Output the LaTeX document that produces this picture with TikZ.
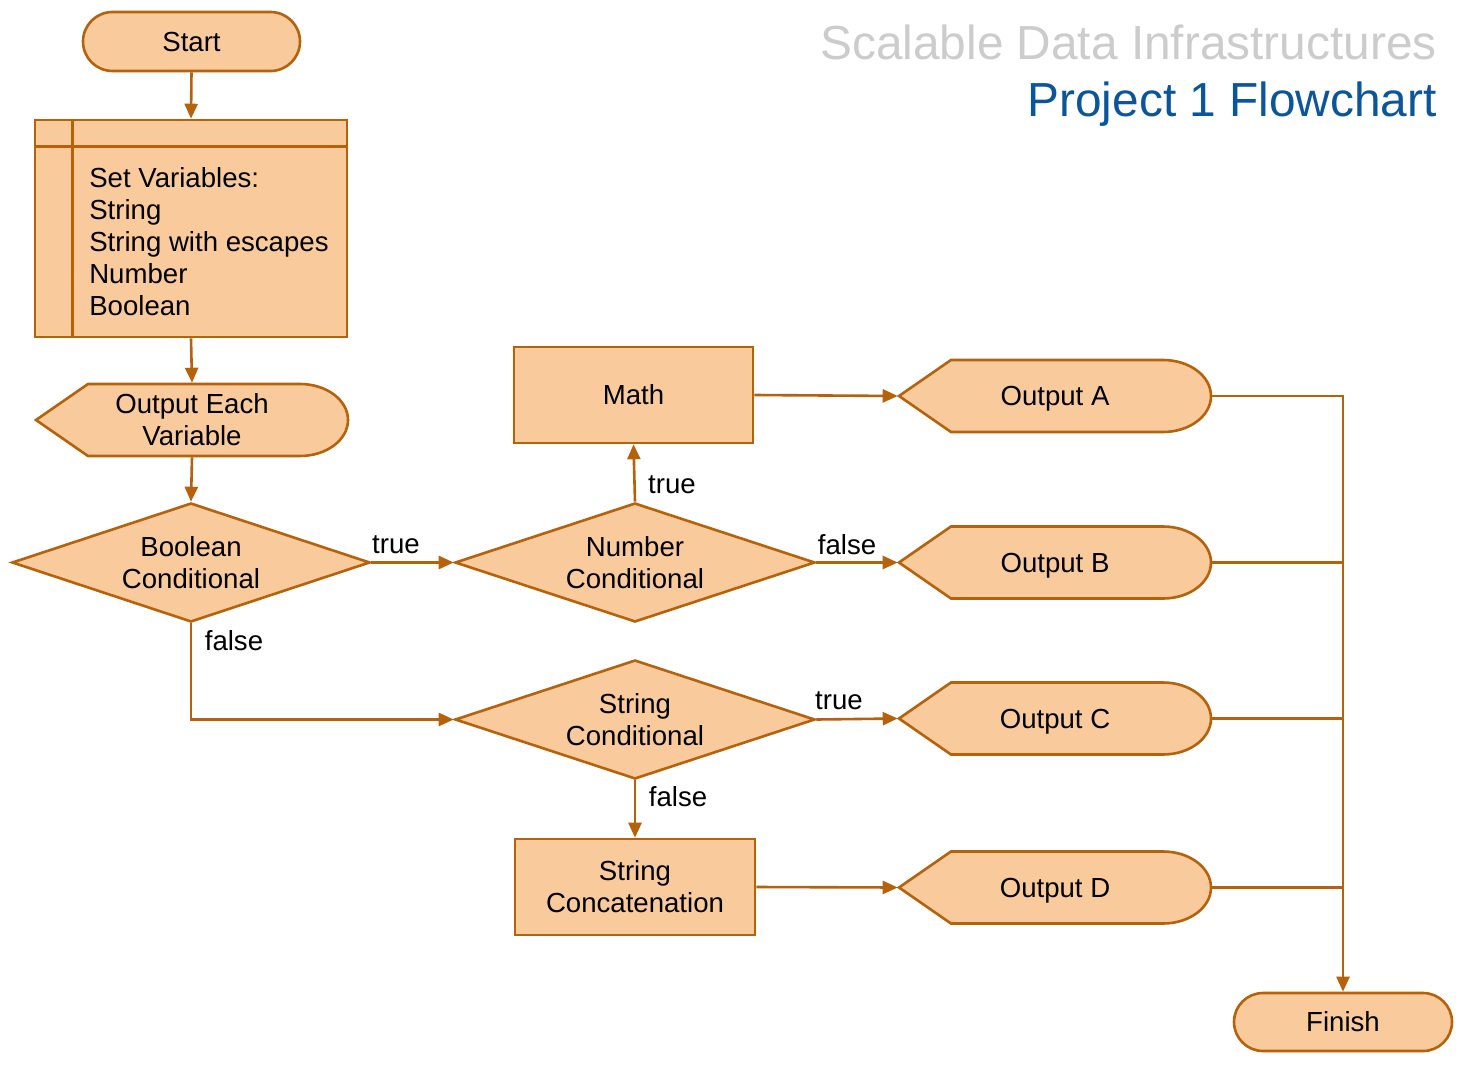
\documentclass[tikz,border=0pt]{standalone}
\usepackage{fontspec}
\setmainfont{Liberation Sans}
\usetikzlibrary{shapes.geometric,shapes.misc,arrows.meta}
\definecolor{fillc}{HTML}{F9CB9C}
\definecolor{linec}{HTML}{B5620B}
\definecolor{titlegray}{HTML}{CCCCCC}
\definecolor{titleblue}{HTML}{0B559B}
\newcommand\dispshape[3]{%
  \draw[draw=linec,fill=fillc] (#1,#3) -- (#1+52,#3-36) -- (#2-48,#3-36)
    .. controls (#2-21.5,#3-36) and (#2,#3-19.9) .. (#2,#3)
    .. controls (#2,#3+19.9) and (#2-21.5,#3+36) .. (#2-48,#3+36)
    -- (#1+52,#3+36) -- cycle;}
\begin{document}
\begin{tikzpicture}[x=0.5pt,y=-0.5pt,line width=1.3pt,
  font=\fontsize{13.8}{16}\selectfont,
  term/.style={rounded rectangle,draw=linec,fill=fillc,minimum width=108.5pt,minimum height=29.5pt,inner sep=0},
  proc/.style={rectangle,draw=linec,fill=fillc,inner sep=0,align=center},
  dec/.style={diamond,draw=linec,fill=fillc,aspect=3,minimum width=179pt,minimum height=59.5pt,inner sep=0,align=center},
  disp/.style={rectangle,inner sep=0,minimum width=156pt,minimum height=36pt,align=center},
  outtxt/.style={disp,text depth=0pt},
  lbl/.style={inner sep=0},
  conn/.style={draw=linec,-{Triangle[length=7.5pt,width=6.5pt]}},
  plainconn/.style={draw=linec},
  ttl/.style={inner sep=0,anchor=base east,font=\fontsize{23.9}{28}\selectfont}]
\useasboundingbox[fill=white] (0,0) rectangle (1466,1070);
% titles
\node[ttl,text=titlegray] (t1) at (1438,60) {Scalable Data Infrastructures};
\node[ttl,text=titleblue] (t2) at (1438,117) {Project 1 Flowchart};
% display shapes
\dispshape{36}{348}{420}
\dispshape{899}{1211}{396}
\dispshape{899}{1211}{562.5}
\dispshape{899}{1211}{718.5}
\dispshape{899}{1211}{887.5}
% nodes
\node[term] (start) at (191.5,41.5) {Start};
\node[proc,minimum width=156pt,minimum height=108.5pt] (sv) at (191,228.5) {};
\draw[draw=linec] ([yshift=-14pt]sv.north west) -- ([yshift=-14pt]sv.north east);
\draw[draw=linec] ([xshift=19.5pt]sv.north west) -- ([xshift=19.5pt]sv.south west);
\node[lbl,anchor=west,align=left] (svt) at (88,242) {Set Variables:\\String\\String with escapes\\Number\\Boolean};
\node[disp] (oev) at (192,420) {Output Each\\Variable};
\node[dec] (bc) at (191,562.5) {Boolean\\Conditional};
\node[dec,minimum width=180pt] (nc) at (635,562.5) {Number\\Conditional};
\node[proc,minimum width=119.5pt,minimum height=48pt] (math) at (633.5,395) {Math};
\node[dec,minimum width=180pt] (sc) at (635,719.5) {String\\Conditional};
\node[proc,minimum width=120pt,minimum height=48pt] (scat) at (635,887) {String\\Concatenation};
\node[outtxt] (oa) at (1055,396) {Output A};
\node[outtxt] (ob) at (1055,562.5) {Output B};
\node[outtxt] (oc) at (1055,718.5) {Output C};
\node[outtxt] (od) at (1055,887.5) {Output D};
\node[term,minimum width=109pt,minimum height=29pt] (fin) at (1343,1022) {Finish};
% connectors
\draw[conn] (start.south) -- (sv.north);
\draw[conn] (sv.south) -- (oev.north);
\draw[conn] (oev.south) -- (bc.north);
\draw[conn] (bc.east) -- (nc.west);
\draw[conn] (bc.south) |- (sc.west);
\draw[conn] (nc.north) -- (math.south);
\draw[conn] (nc.east) -- (ob.west);
\draw[conn] (math.east) -- (oa.west);
\draw[conn] (sc.east) -- (oc.west);
\draw[conn] (sc.south) -- (scat.north);
\draw[conn] (scat.east) -- (od.west);
\draw[conn] (oa.east) -| (fin.north);
\draw[plainconn] (ob.east) -- (ob.east -| fin.north);
\draw[plainconn] (oc.east) -- (oc.east -| fin.north);
\draw[plainconn] (od.east) -- (od.east -| fin.north);
% labels
\node[lbl] (l1) at (396,545) {true};
\node[lbl] (l2) at (234,641) {false};
\node[lbl] (l3) at (672,485) {true};
\node[lbl] (l4) at (847,545) {false};
\node[lbl] (l5) at (839,701) {true};
\node[lbl] (l6) at (678,797) {false};
\end{tikzpicture}
\end{document}
